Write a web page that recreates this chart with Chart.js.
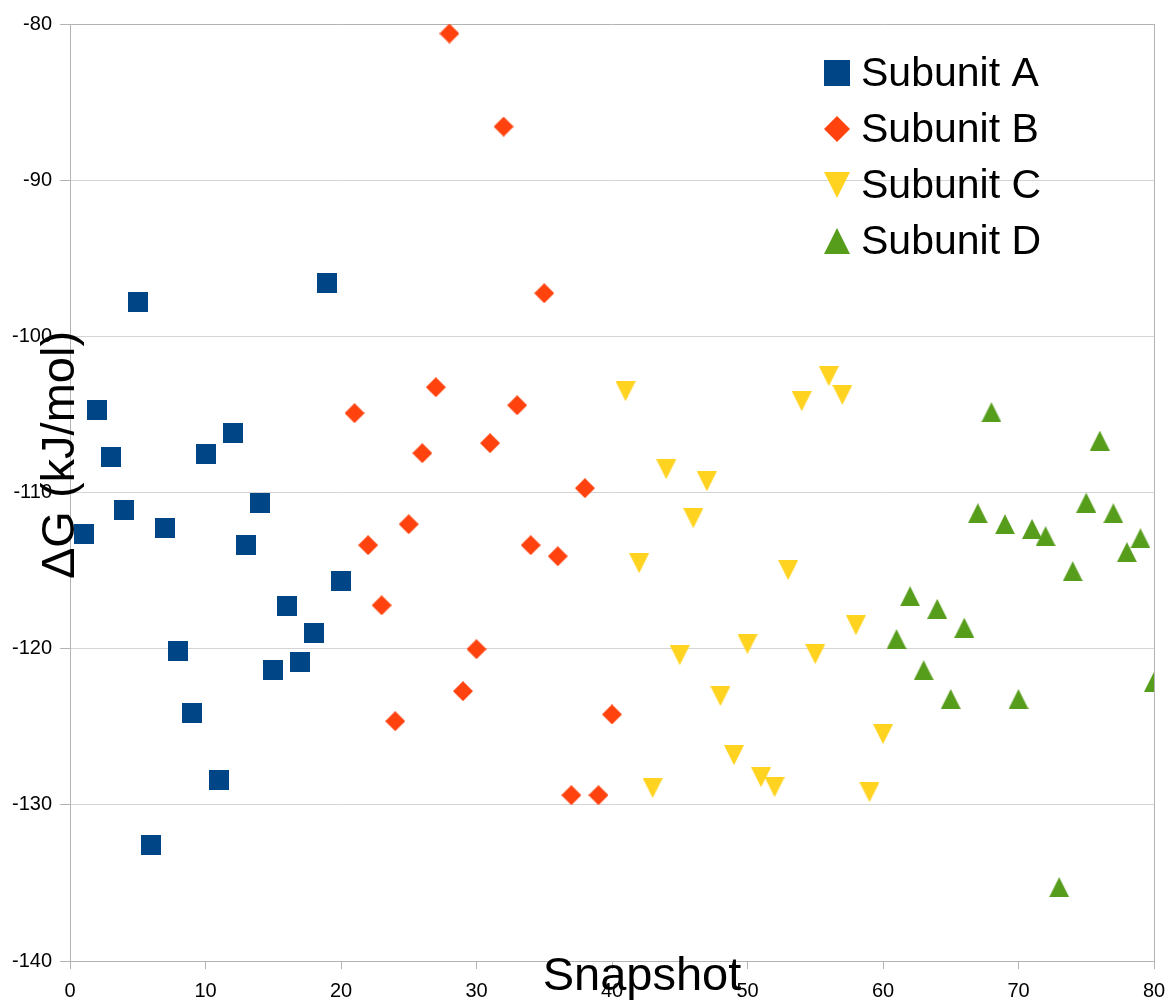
<html><head><title>Subunit binding energies</title>
<script src="https://cdn.jsdelivr.net/npm/chart.js"></script>
<style>
    body { margin: 0; background: #fff; }
    canvas { display: block; }
</style>
</head>
<body>
<canvas id="energyChart" width="1170" height="1005"></canvas>
<script>
// snapshots and ΔG values (kJ/mol)
const snapA = [1,2,3,4,5,6,7,8,9,10,11,12,13,14,15,16,17,18,19,20];
const dgA = [-112.67,-104.69,-107.70,-111.13,-97.80,-132.60,-112.29,-120.16,-124.15,-107.53,
             -128.44,-106.18,-113.37,-110.69,-121.38,-117.28,-120.88,-118.99,-96.56,-115.66];

const snapB = [21,22,23,24,25,26,27,28,29,30,31,32,33,34,35,36,37,38,39,40];
const dgB = [-104.92,-113.37,-117.22,-124.64,-112.03,-107.48,-103.26,-80.61,-122.72,-120.03,
             -106.84,-86.57,-104.41,-113.37,-97.24,-114.08,-129.38,-109.72,-129.38,-124.21];

const snapC = [41,42,43,44,45,46,47,48,49,50,51,52,53,54,55,56,57,58,59,60];
const dgC = [-103.52,-114.53,-128.93,-108.51,-120.42,-111.65,-109.28,-123.04,-126.82,-119.71,
             -128.23,-128.87,-114.97,-104.15,-120.35,-102.55,-103.75,-118.50,-129.19,-125.47];

const snapD = [61,62,63,64,65,66,67,68,69,70,71,72,73,74,75,76,77,78,79,80];
const dgD = [-119.39,-116.64,-121.38,-117.45,-123.23,-118.66,-111.33,-104.86,-112.03,-123.23,
             -112.33,-112.80,-135.27,-115.04,-110.65,-106.68,-111.33,-113.82,-112.93,-122.13];

const seriesNames = ['Subunit A', 'Subunit B', 'Subunit C', 'Subunit D'];
const seriesColors = ['#004586', '#ff420e', '#ffd320', '#579d1c'];
const seriesShapes = ['square', 'diamond', 'down', 'up'];

const yTicks = [-140, -130, -120, -110, -100, -90, -80];
const xTicks = [0, 10, 20, 30, 40, 50, 60, 70, 80];

// little canvases used as point markers
function makeMarker(shape, size, color) {
    const c = document.createElement('canvas');
    c.width = size; c.height = size;
    const g = c.getContext('2d');
    g.fillStyle = color;
    g.beginPath();
    if (shape === 'square') {
        g.rect(0, 0, size, size);
    } else if (shape === 'diamond') {
        g.moveTo(size / 2, 0); g.lineTo(size, size / 2);
        g.lineTo(size / 2, size); g.lineTo(0, size / 2);
    } else if (shape === 'down') {
        g.moveTo(0, 0); g.lineTo(size, 0); g.lineTo(size / 2, size);
    } else {
        g.moveTo(size / 2, 0); g.lineTo(size, size); g.lineTo(0, size);
    }
    g.closePath();
    g.fill();
    return c;
}

const pointMarkers = seriesShapes.map((s, i) => makeMarker(s, 20, seriesColors[i]));
const legendMarkers = seriesShapes.map((s, i) => makeMarker(s, 26, seriesColors[i]));

function toPoints(xs, ys) {
    return xs.map((x, i) => ({ x: x, y: ys[i] }));
}

const allData = [toPoints(snapA, dgA), toPoints(snapB, dgB), toPoints(snapC, dgC), toPoints(snapD, dgD)];

const overlay = {
    id: 'overlay',
    afterDraw(chart) {
        const ctx = chart.ctx;
        const area = chart.chartArea;
        ctx.save();
        // right border of the plot wall
        ctx.strokeStyle = '#b3b3b3';
        ctx.lineWidth = 1;
        ctx.beginPath();
        ctx.moveTo(Math.round(area.right) + 0.5, area.top);
        ctx.lineTo(Math.round(area.right) + 0.5, area.bottom);
        ctx.stroke();

        // legend
        ctx.font = '41px "Liberation Sans", Arial, sans-serif';
        ctx.fillStyle = '#000';
        ctx.textBaseline = 'middle';
        ctx.textAlign = 'left';
        seriesNames.forEach((name, i) => {
            const cy = 73 + i * 56;
            const m = legendMarkers[i];
            ctx.drawImage(m, 837 - m.width / 2, cy - m.height / 2);
            ctx.fillText(name, 861, cy + 2);
        });

        // axis titles
        ctx.font = '47px "Liberation Sans", Arial, sans-serif';
        ctx.textBaseline = 'alphabetic';
        ctx.textAlign = 'center';
        ctx.fillText('Snapshot', 642, 990);
        ctx.translate(74, 455);
        ctx.rotate(-Math.PI / 2);
        ctx.fillText('\u0394G (kJ/mol)', 0, 0);
        ctx.restore();
    }
};

const ctx = document.getElementById('energyChart').getContext('2d');
new Chart(ctx, {
    type: 'scatter',
    data: {
        datasets: seriesNames.map((name, i) => ({
            label: name,
            data: allData[i],
            pointStyle: pointMarkers[i],
            backgroundColor: seriesColors[i],
            borderColor: seriesColors[i]
        }))
    },
    options: {
        responsive: false,
        animation: false,
        layout: { padding: { top: 24, right: 16, left: 0, bottom: 0 } },
        plugins: {
            legend: { display: false },
            tooltip: { enabled: false }
        },
        scales: {
            x: {
                type: 'linear',
                min: 0,
                max: 80,
                afterFit: s => { s.height = 44; s.paddingLeft = 0; s.paddingRight = 0; },
                afterBuildTicks: s => { s.ticks = xTicks.map(v => ({ value: v })); },
                ticks: {
                    color: '#000',
                    padding: 10,
                    font: { family: '"Liberation Sans", Arial, sans-serif', size: 20 }
                },
                grid: { drawOnChartArea: false, tickLength: 8, tickColor: '#b3b3b3' },
                border: { color: '#b3b3b3' }
            },
            y: {
                min: -140,
                max: -80,
                afterFit: s => { s.width = 70; s.paddingTop = 0; s.paddingBottom = 0; },
                afterBuildTicks: s => { s.ticks = yTicks.map(v => ({ value: v })); },
                ticks: {
                    color: '#000',
                    padding: 8,
                    font: { family: '"Liberation Sans", Arial, sans-serif', size: 20 }
                },
                grid: {
                    tickLength: 10,
                    color: c => (c.tick && c.tick.value === -80) ? '#b3b3b3' : '#d4d4d4',
                    tickColor: '#b3b3b3'
                },
                border: { color: '#b3b3b3' }
            }
        }
    },
    plugins: [overlay]
});
</script>
</body>
</html>
